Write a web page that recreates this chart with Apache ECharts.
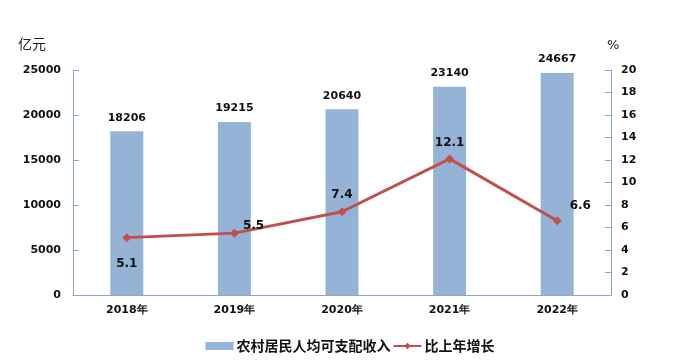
<!DOCTYPE html>
<html><head><meta charset="utf-8">
<script src="https://cdn.jsdelivr.net/npm/echarts@6/dist/echarts.min.js"></script>
<style>html,body{margin:0;padding:0;background:#fff}#c{width:700px;height:364px}</style>
</head><body><div id="c"></div>
<script>
const categories = ['2018年','2019年','2020年','2021年','2022年'];
const incomeValues = [18206, 19215, 20640, 23140, 24667];
const growthValues = [5.1, 5.5, 7.4, 12.1, 6.6];
const growthLabelPos = ['bottom', 'right', 'top', 'top', 'right'];
const growthLabelOffset = [[0, 10], [-2, -7], [0, 0], [0, 0], [2, -15]];

const numFont = {fontFamily: 'DejaVu Sans', fontWeight: 'bold', fontSize: 11, color: '#111'};
const axisLineColor = '#8ba7cc';

const chart = echarts.init(document.getElementById('c'));
chart.setOption({
  animation: false,
  grid: {left: 73, right: 89, top: 70, bottom: 69},
  graphic: [
    {type: 'text', left: 18, top: 37, style: {text: '亿元', font: '14px "Noto Sans CJK SC"', fill: '#222'}},
    {type: 'text', left: 607, top: 39, style: {text: '%', font: '13px "DejaVu Sans"', fill: '#222'}}
  ],
  legend: {
    bottom: 6, left: 'center', itemGap: 2, itemWidth: 28, itemHeight: 8,
    textStyle: {fontFamily: 'Noto Sans CJK SC', fontWeight: 'bold', fontSize: 14, color: '#111', padding: [0, 0, 0, -2]},
    data: [{name: '农村居民人均可支配收入', icon: 'rect'}, {name: '比上年增长'}]
  },
  xAxis: {
    type: 'category', data: categories,
    axisLine: {lineStyle: {color: axisLineColor, width: 1}},
    axisTick: {show: false},
    axisLabel: Object.assign({margin: 10}, numFont)
  },
  yAxis: [
    {type: 'value', min: 0, max: 25000, interval: 5000,
     axisLine: {show: true, lineStyle: {color: axisLineColor}},
     axisTick: {show: true, inside: true, length: 6, lineStyle: {color: axisLineColor}},
     splitLine: {show: false},
     axisLabel: Object.assign({margin: 12, formatter: v => String(v)}, numFont)},
    {type: 'value', min: 0, max: 20, interval: 2,
     axisLine: {show: true, lineStyle: {color: axisLineColor}},
     axisTick: {show: true, inside: true, length: 6, lineStyle: {color: axisLineColor}},
     splitLine: {show: false},
     axisLabel: Object.assign({margin: 10}, numFont)}
  ],
  series: [
    {name: '农村居民人均可支配收入', type: 'bar', data: incomeValues, barWidth: 33,
     itemStyle: {color: '#95b3d7'},
     label: Object.assign({show: true, position: 'top', distance: 8, formatter: p => String(p.value)}, numFont)},
    {name: '比上年增长', type: 'line', yAxisIndex: 1,
     data: growthValues.map((v, i) => ({value: v, label: {position: growthLabelPos[i], offset: growthLabelOffset[i]}})),
     lineStyle: {color: '#c0504d', width: 3},
     itemStyle: {color: '#c0504d'},
     symbol: 'diamond', symbolSize: 9,
     label: Object.assign({show: true, distance: 6}, numFont, {fontSize: 12})}
  ]
});
</script></body></html>
